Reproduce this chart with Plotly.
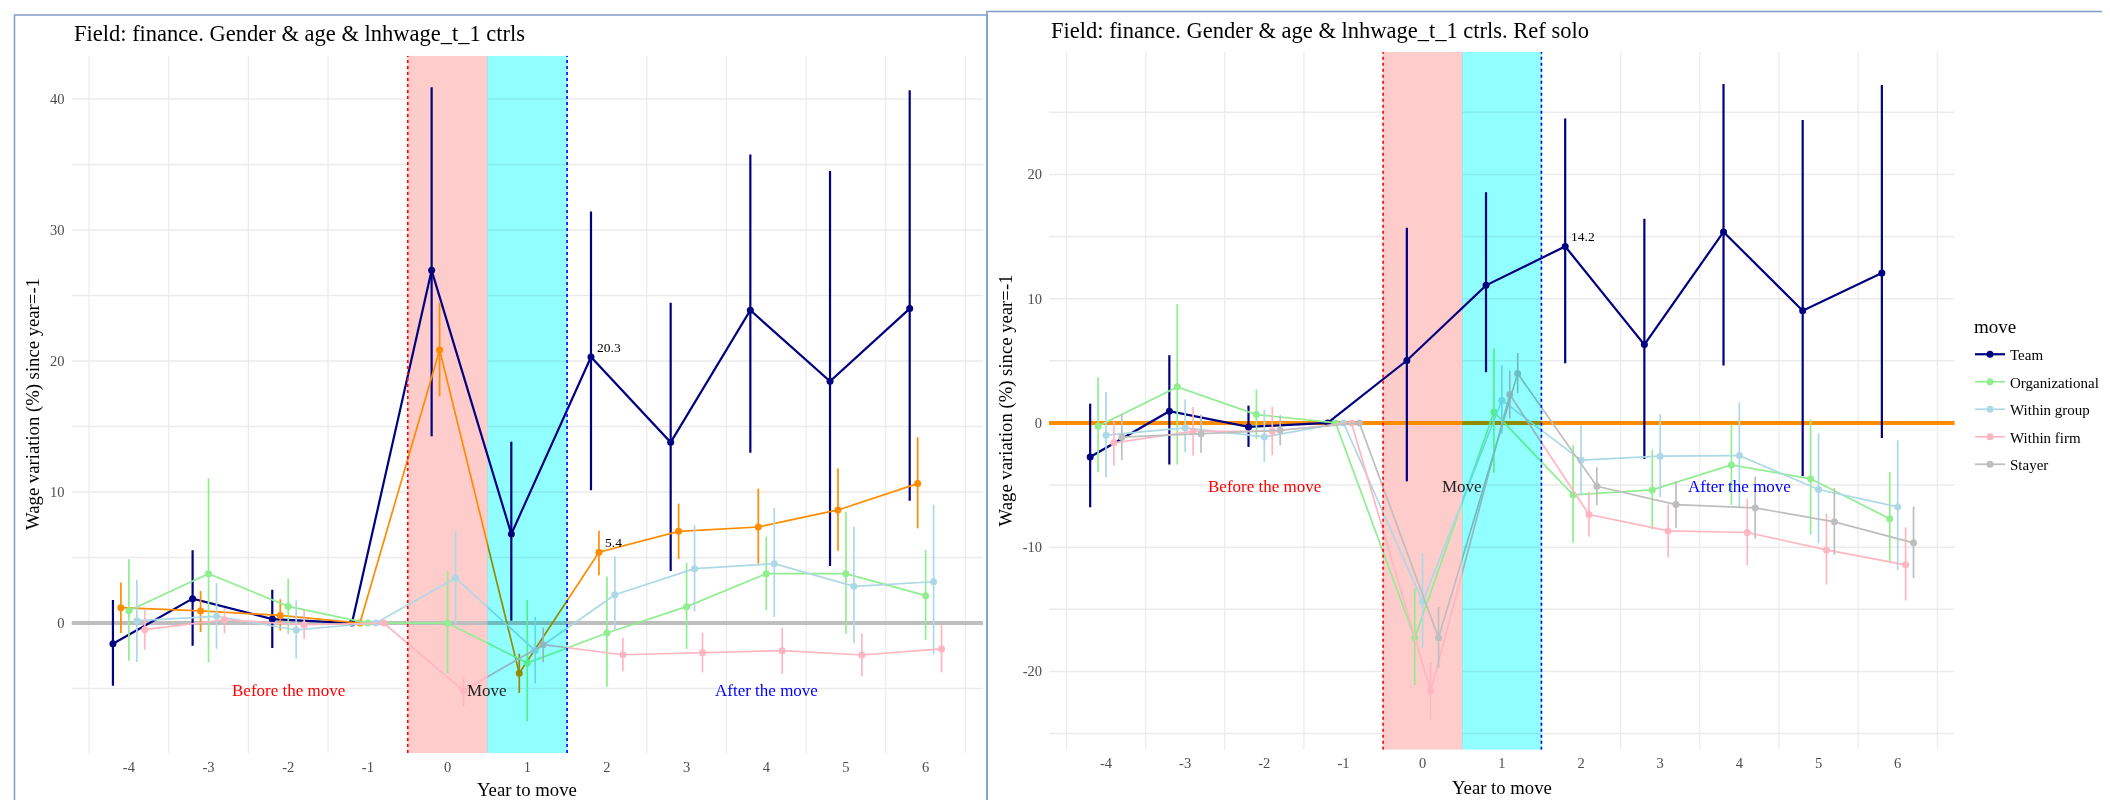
import plotly.graph_objects as go

W, H = 2110, 800

# ---------------- data ----------------
years = [-4, -3, -2, -1, 0, 1, 2, 3, 4, 5, 6]
year_labels = ["-4", "-3", "-2", "-1", "0", "1", "2", "3", "4", "5", "6"]

# Left panel (reference: stayers)
left_names = ["Team", "Solo", "Organizational", "Within group", "Within firm"]
team_L = [-1.58, 1.86, 0.30, 0, 26.92, 6.79, 20.3, 13.79, 23.87, 18.45, 24.0]
team_L_lo = [-4.78, -1.73, -1.91, 0, 14.25, 0.18, 10.13, 3.97, 13.0, 4.35, 9.34]
team_L_hi = [1.76, 5.55, 2.54, 0, 40.9, 13.84, 31.4, 24.45, 35.75, 34.5, 40.66]
solo_L = [1.17, 0.92, 0.58, 0, 20.84, -3.84, 5.4, 7.0, 7.33, 8.63, 10.64]
solo_L_lo = [-0.76, -0.69, -0.58, 0, 17.3, -5.34, 3.64, 4.89, 4.53, 5.52, 7.23]
solo_L_hi = [3.1, 2.44, 1.81, 0, 24.45, -2.34, 7.05, 9.11, 10.25, 11.8, 14.17]
org_L = [0.94, 3.77, 1.27, 0, 0.0, -3.05, -0.76, 1.25, 3.77, 3.77, 2.09]
org_L_lo = [-2.88, -3.0, -0.84, 0, -3.85, -7.5, -4.86, -1.98, 0.96, -0.81, -1.27]
org_L_hi = [4.86, 11.04, 3.38, 0, 3.95, 1.75, 3.56, 4.6, 6.59, 8.5, 5.57]
grp_L = [0.18, 0.51, -0.53, 0, 3.44, -2.1, 2.16, 4.15, 4.53, 2.8, 3.15]
grp_L_lo = [-2.98, -1.96, -2.72, 0, -0.1, -4.6, -0.51, 0.89, 0.46, -1.53, -2.39]
grp_L_hi = [3.31, 3.05, 1.73, 0, 7.0, 0.47, 5.09, 7.48, 8.78, 7.35, 9.03]
firm_L = [-0.51, 0.25, -0.13, 0, -5.17, -1.65, -2.42, -2.26, -2.11, -2.44, -1.98]
firm_L_lo = [-2.04, -0.79, -1.22, 0, -6.36, -2.98, -3.69, -3.77, -3.87, -4.07, -3.77]
firm_L_hi = [1.02, 1.15, 1.02, 0, -4.07, -0.34, -1.15, -0.74, -0.36, -0.79, -0.13]

# Right panel (reference: solo)
right_names = ["Team", "Organizational", "Within group", "Within firm", "Stayer"]
team_R = [-2.74, 0.94, -0.32, 0, 5.02, 11.07, 14.2, 6.3, 15.37, 9.03, 12.07]
team_R_lo = [-6.79, -3.35, -1.93, 0, -4.7, 4.08, 4.8, -2.9, 4.61, -4.29, -1.21]
team_R_hi = [1.55, 5.45, 1.39, 0, 15.7, 18.56, 24.5, 16.44, 27.27, 24.38, 27.19]
org_R = [-0.27, 2.9, 0.67, 0, -17.3, 0.88, -5.79, -5.39, -3.38, -4.5, -7.72]
org_R_lo = [-3.97, -3.35, -1.29, 0, -21.1, -4.02, -9.63, -8.56, -6.6, -9.0, -11.3]
org_R_hi = [3.67, 9.57, 2.7, 0, -13.3, 5.98, -1.8, -2.15, -0.13, 0.27, -3.97]
grp_R = [-0.99, -0.4, -1.13, 0, -14.4, 1.82, -3.0, -2.68, -2.63, -5.36, -6.76]
grp_R_lo = [-4.37, -2.36, -3.16, 0, -18.1, -0.88, -5.82, -5.98, -6.76, -9.71, -11.85]
grp_R_hi = [2.49, 1.9, 1.07, 0, -10.5, 4.64, -0.19, 0.72, 1.66, -0.83, -1.39]
firm_R = [-1.6, -0.67, -0.67, 0, -21.6, 2.28, -7.37, -8.69, -8.82, -10.22, -11.42]
firm_R_lo = [-3.43, -2.63, -2.6, 0, -23.87, 0.35, -9.14, -10.83, -11.47, -13.0, -14.3]
firm_R_hi = [0.2, 1.29, 1.3, 0, -19.3, 4.21, -5.55, -6.57, -6.09, -7.32, -8.4]
stay_R = [-1.15, -0.89, -0.59, 0, -17.3, 3.97, -5.1, -6.57, -6.84, -7.96, -9.65]
stay_R_lo = [-3.0, -2.41, -1.8, 0, -19.7, 2.41, -6.63, -8.45, -9.33, -10.62, -12.5]
stay_R_hi = [0.7, 0.67, 0.62, 0, -14.8, 5.63, -3.57, -4.7, -4.32, -5.23, -6.73]

left_ticks = [0, 10, 20, 30, 40]
left_tick_labels = ["0", "10", "20", "30", "40"]
left_minor = [-5, 5, 15, 25, 35]
right_ticks = [-20, -10, 0, 10, 20]
right_tick_labels = ["-20", "-10", "0", "10", "20"]
right_minor = [-25, -15, -5, 5, 15, 25]

titles = ["Field: finance. Gender & age & lnhwage_t_1 ctrls",
          "Field: finance. Gender & age & lnhwage_t_1 ctrls. Ref solo"]
x_title = "Year to move"
y_title = "Wage variation (%) since year=-1"
phase_labels = ["Before the move", "Move", "After the move"]
phase_x = [-2, 0.5, 4]
legend_title = "move"

# ---------------- style ----------------
FONT = "Liberation Serif, Times New Roman, serif"
NAVY, ORANGE, GREEN, LBLUE, PINK, GREY = "#000080", "#FF8C00", "#90EE90", "#ADD8E6", "#FFB6C1", "#BEBEBE"
GRID = "#EBEBEB"
offsets = [-0.2, -0.1, 0.0, 0.1, 0.2]
XR = [-4.72, 6.72]
YR_L = [-9.92, 43.3]
YR_R = [-26.3, 29.85]

fig = go.Figure()


def add_series(name, y, lo, hi, color, xa, ya, off, lw, show):
    fig.add_trace(go.Scatter(
        x=[yr + off for yr in years], y=y, mode="lines+markers", name=name,
        line=dict(color=color, width=lw), marker=dict(color=color, size=7),
        error_y=dict(type="data", symmetric=False,
                     array=[h - v for h, v in zip(hi, y)],
                     arrayminus=[v - l for v, l in zip(y, lo)],
                     color=color, thickness=lw, width=0),
        xaxis=xa, yaxis=ya, showlegend=show, legendgroup=name, hoverinfo="skip"))


left_data = [(team_L, team_L_lo, team_L_hi, NAVY), (solo_L, solo_L_lo, solo_L_hi, ORANGE),
             (org_L, org_L_lo, org_L_hi, GREEN), (grp_L, grp_L_lo, grp_L_hi, LBLUE),
             (firm_L, firm_L_lo, firm_L_hi, PINK)]
for i, (nm, (y, lo, hi, c)) in enumerate(zip(left_names, left_data)):
    add_series(nm, y, lo, hi, c, "x", "y", offsets[i], 2.2 if nm == "Team" else 1.7, False)

right_data = [(team_R, team_R_lo, team_R_hi, NAVY), (org_R, org_R_lo, org_R_hi, GREEN),
              (grp_R, grp_R_lo, grp_R_hi, LBLUE), (firm_R, firm_R_lo, firm_R_hi, PINK),
              (stay_R, stay_R_lo, stay_R_hi, GREY)]
for i, (nm, (y, lo, hi, c)) in enumerate(zip(right_names, right_data)):
    add_series(nm, y, lo, hi, c, "x2", "y2", offsets[i], 2.2 if nm == "Team" else 1.7, True)


# ---------------- axes ----------------
def px_x(p):
    return p / W


def px_y(p):
    return 1 - p / H


xcommon = dict(range=XR, tickmode="array", tickvals=years, ticktext=year_labels,
               showgrid=False, zeroline=False, showline=False, ticks="",
               ticklabelstandoff=3,
               tickfont=dict(family=FONT, size=14.5, color="#4D4D4D"))
ycommon = dict(zeroline=False, showline=False, ticks="", showgrid=False,
               ticklabelstandoff=6,
               tickfont=dict(family=FONT, size=14.5, color="#4D4D4D"))

fig.update_layout(
    xaxis=dict(domain=[px_x(63.5), px_x(975)], anchor="y", **xcommon),
    yaxis=dict(domain=[px_y(745), px_y(47.7)], anchor="x", range=YR_L,
               tickmode="array", tickvals=left_ticks, ticktext=left_tick_labels, **ycommon),
    xaxis2=dict(domain=[px_x(1041), px_x(1946.7)], anchor="y2", **xcommon),
    yaxis2=dict(domain=[px_y(741.7), px_y(44)], anchor="x2", range=YR_R,
                tickmode="array", tickvals=right_ticks, ticktext=right_tick_labels, **ycommon),
)

# ---------------- shapes ----------------
shapes = []
minor_x = [yr + 0.5 for yr in [-5] + years]
for xr, yr_, yrange, ymaj, ymin_, hcol in [("x", "y", YR_L, left_ticks, left_minor, GREY),
                                           ("x2", "y2", YR_R, right_ticks, right_minor, ORANGE)]:
    # grid (y major + minor, x minor only)
    for v in ymaj + ymin_:
        shapes.append(dict(type="line", xref=xr, yref=yr_, x0=XR[0], x1=XR[1], y0=v, y1=v,
                           line=dict(color=GRID, width=1.5), layer="below"))
    for v in minor_x:
        shapes.append(dict(type="line", xref=xr, yref=yr_, x0=v, x1=v, y0=yrange[0], y1=yrange[1],
                           line=dict(color=GRID, width=1.2), layer="below"))
    # "before" band and reference line
    shapes.append(dict(type="rect", xref=xr, yref=yr_, x0=-0.5, x1=0.5, y0=yrange[0], y1=yrange[1],
                       fillcolor="#FFCCCC", line=dict(width=0), layer="below"))
    shapes.append(dict(type="line", xref=xr, yref=yr_, x0=XR[0], x1=XR[1], y0=0, y1=0,
                       line=dict(color=hcol, width=4), layer="below"))
    # "move" band (multiplied on top) and dotted borders
    shapes.append(dict(type="rect", xref=xr, yref=yr_, x0=0.5, x1=1.5, y0=yrange[0], y1=yrange[1],
                       fillcolor="#91FFFF", line=dict(width=0), layer="above"))
    shapes.append(dict(type="line", xref=xr, yref=yr_, x0=-0.5, x1=-0.5, y0=yrange[0], y1=yrange[1],
                       line=dict(color="red", width=1.6, dash="dot"), layer="above"))
    shapes.append(dict(type="line", xref=xr, yref=yr_, x0=1.5, x1=1.5, y0=yrange[0], y1=yrange[1],
                       line=dict(color="blue", width=1.6, dash="dot"), layer="above"))

BOX = "#7F9DC8"
shapes.append(dict(type="rect", xref="paper", yref="paper", x0=px_x(6.5), x1=px_x(979),
                   y0=px_y(806), y1=px_y(7), line=dict(color=BOX, width=1.5), layer="above"))
shapes.append(dict(type="rect", xref="paper", yref="paper", x0=px_x(979), x1=px_x(2116),
                   y0=px_y(798), y1=px_y(3.5), line=dict(color=BOX, width=1.5), layer="above"))
fig.update_layout(shapes=shapes)

# ---------------- annotations ----------------
ann = []
ann.append(dict(text=titles[0], xref="paper", yref="paper", x=px_x(63.5), y=px_y(25.7),
                xanchor="left", yanchor="middle", showarrow=False,
                font=dict(family=FONT, size=22.5, color="black")))
ann.append(dict(text=titles[1], xref="paper", yref="paper", x=px_x(1041), y=px_y(22.7),
                xanchor="left", yanchor="middle", showarrow=False,
                font=dict(family=FONT, size=22.5, color="black")))
for xc, yc in [(519, 781.7), (1494, 779.3)]:
    ann.append(dict(text=x_title, xref="paper", yref="paper", x=px_x(xc), y=px_y(yc),
                    xanchor="center", yanchor="middle", showarrow=False,
                    font=dict(family=FONT, size=18.7, color="black")))
for xc, yc in [(25.5, 396.4), (997.5, 392.9)]:
    ann.append(dict(text=y_title, xref="paper", yref="paper", x=px_x(xc), y=px_y(yc),
                    xanchor="center", yanchor="middle", showarrow=False, textangle=-90,
                    font=dict(family=FONT, size=18.7, color="black")))
phase_colors = ["red", "#222222", "blue"]
for xr, yr_ in [("x", "y"), ("x2", "y2")]:
    for t, xv, c in zip(phase_labels, phase_x, phase_colors):
        ann.append(dict(text=t, xref=xr, yref=yr_, x=xv, y=-5.15, showarrow=False,
                        xanchor="center", yanchor="middle",
                        font=dict(family=FONT, size=17, color=c)))
# value labels at year 2
idx2 = years.index(2)
for xr, yr_, yv, off in [("x", "y", team_L[idx2], offsets[0]), ("x", "y", solo_L[idx2], offsets[1]),
                         ("x2", "y2", team_R[idx2], offsets[0])]:
    ann.append(dict(text=f"{yv:.1f}", xref=xr, yref=yr_, x=2 + off, y=yv, showarrow=False,
                    xanchor="left", yanchor="middle", xshift=4, yshift=10,
                    font=dict(family=FONT, size=13.5, color="black")))
# legend title
ann.append(dict(text=legend_title, xref="paper", yref="paper", x=px_x(1964), y=px_y(319),
                xanchor="left", yanchor="middle", showarrow=False,
                font=dict(family=FONT, size=19, color="black")))
fig.update_layout(annotations=ann)

fig.update_layout(
    width=W, height=H, margin=dict(l=0, r=0, t=0, b=0, autoexpand=False),
    paper_bgcolor="white", plot_bgcolor="white",
    showlegend=True,
    legend=dict(x=px_x(1962), y=px_y(330), xanchor="left", yanchor="top",
                font=dict(family=FONT, size=15, color="black"),
                tracegroupgap=5, itemwidth=30, bgcolor="rgba(0,0,0,0)"),
)

post = """
var gd = document.getElementById('{plot_id}');
function blendCyan(){
  gd.querySelectorAll('path').forEach(function(p){
    var f = (p.style.fill || p.getAttribute('fill') || '').replace(/\\s/g,'').toLowerCase();
    if (f.indexOf('145,255,255') >= 0 || f.indexOf('#91ffff') >= 0) {
      var el = p;
      while (el && el.tagName && el.tagName.toLowerCase() !== 'svg') {
        if (el === p || el.hasAttribute('clip-path') || (el.style && el.style.clipPath) ||
            (el.classList && el.classList.contains('shape-group'))) {
          el.style.mixBlendMode = 'multiply';
        }
        el = el.parentNode;
      }
    }
  });
}
blendCyan();
gd.on('plotly_afterplot', blendCyan);
"""

fig.write_html("out.html", post_script=post)
